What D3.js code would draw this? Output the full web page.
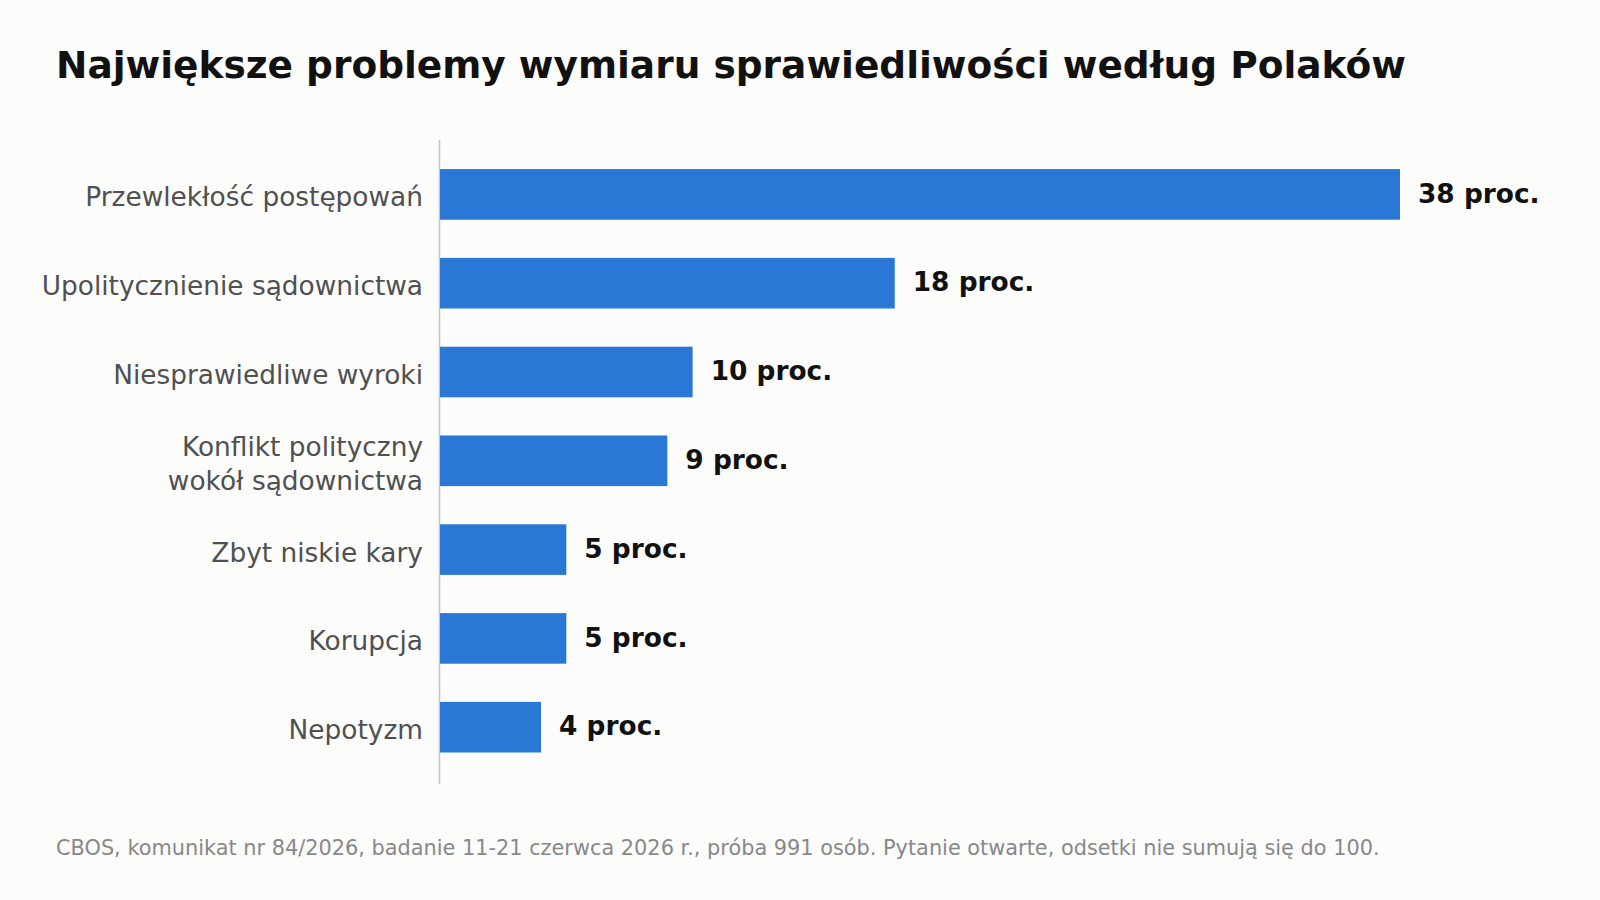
<!DOCTYPE html>
<html>
<head>
    <meta charset="utf-8" />
    <script src="https://d3js.org/d3.v7.min.js"></script>
    <style>
        body { margin: 0; background: #fcfcfb; }
        svg { display: block; font-family: "DejaVu Sans", sans-serif; }
    </style>
</head>
<body>
    <svg width="1600" height="900"></svg>
    <script>
        var categories = [
            ["Przewlekłość postępowań"],
            ["Upolitycznienie sądownictwa"],
            ["Niesprawiedliwe wyroki"],
            ["Konflikt polityczny", "wokół sądownictwa"],
            ["Zbyt niskie kary"],
            ["Korupcja"],
            ["Nepotyzm"]
        ];
        var values = [38, 18, 10, 9, 5, 5, 4];
        var valueLabels = ["38 proc.", "18 proc.", "10 proc.", "9 proc.", "5 proc.", "5 proc.", "4 proc."];

        var title = "Największe problemy wymiaru sprawiedliwości według Polaków";
        var source = "CBOS, komunikat nr 84/2026, badanie 11-21 czerwca 2026 r., próba 991 osób. Pytanie otwarte, odsetki nie sumują się do 100.";

        var svg = d3.select("svg");

        svg.append("rect")
            .attr("width", 1600)
            .attr("height", 900)
            .attr("fill", "#fcfcfb");

        var idx = d3.range(values.length);

        var x = d3.scaleLinear()
            .domain([0, d3.max(values)])
            .range([440, 1400]);

        var y = d3.scaleBand()
            .domain(idx)
            .range([150, 771.6])
            .paddingInner(0.43)
            .paddingOuter(0.215);

        // axis line
        svg.append("line")
            .attr("x1", x(0) - 0.5)
            .attr("x2", x(0) - 0.5)
            .attr("y1", 140)
            .attr("y2", 784)
            .attr("stroke", "#c4c4c4")
            .attr("stroke-width", 1.5);

        // bars
        svg.selectAll(".bar")
            .data(idx)
            .enter().append("rect")
            .attr("class", "bar")
            .attr("x", x(0))
            .attr("y", function (i) { return y(i); })
            .attr("width", function (i) { return x(values[i]) - x(0); })
            .attr("height", y.bandwidth())
            .attr("fill", "#2a78d6");

        // value labels
        svg.selectAll(".value")
            .data(idx)
            .enter().append("text")
            .attr("class", "value")
            .attr("x", function (i) { return x(values[i]) + 18; })
            .attr("y", function (i) { return y(i) + y.bandwidth() / 2; })
            .attr("dy", "0.31em")
            .attr("font-size", 26.4)
            .attr("font-weight", "bold")
            .attr("fill", "#111")
            .text(function (i) { return valueLabels[i]; });

        // category labels
        var lineH = 33.5;
        var cat = svg.selectAll(".cat")
            .data(idx)
            .enter().append("text")
            .attr("class", "cat")
            .attr("x", 423)
            .attr("y", function (i) { return y(i) + y.bandwidth() / 2; })
            .attr("text-anchor", "end")
            .attr("font-size", 26.4)
            .attr("fill", "#505050");

        cat.each(function (i) {
            var lines = categories[i];
            var off = -(lines.length - 1) * lineH / 2;
            d3.select(this).selectAll("tspan")
                .data(lines)
                .enter().append("tspan")
                .attr("x", 423)
                .attr("dy", function (d, k) { return k === 0 ? (off + 12) : lineH; })
                .text(function (d) { return d; });
        });

        // title
        svg.append("text")
            .attr("x", 56)
            .attr("y", 78)
            .attr("font-size", 37.5)
            .attr("font-weight", "bold")
            .attr("fill", "#111")
            .text(title);

        // source
        svg.append("text")
            .attr("x", 56)
            .attr("y", 855)
            .attr("font-size", 20.85)
            .attr("fill", "#888")
            .text(source);
    </script>
</body>
</html>
